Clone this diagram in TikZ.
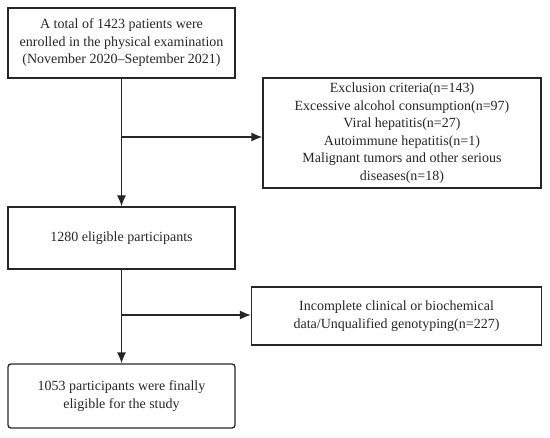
\documentclass[tikz,border=0pt]{standalone}
\usepackage{fontspec}
\setmainfont{Liberation Serif}
\usetikzlibrary{arrows.meta}
\begin{document}
\begin{tikzpicture}[x=1bp,y=-1bp,
  box/.style={draw=black!85, line width=1.3bp, align=center, inner sep=0pt,
    font=\fontsize{14bp}{17.5bp}\selectfont, text=black!85},
  conn/.style={draw=black!85, line width=1.3bp},
  arr/.style={conn, -{Latex[length=11bp,width=9bp]}}]
\useasboundingbox (0,0) rectangle (550,438);
\node[box, minimum width=227bp, minimum height=70bp] (a) at (121.5,43) {A total of 1423 patients were\\enrolled in the physical examination\\(November 2020--September 2021)};
\node[box, minimum width=278bp, minimum height=110bp] (b) at (402,133) {Exclusion criteria(n=143)\\Excessive alcohol consumption(n=97)\\Viral hepatitis(n=27)\\Autoimmune hepatitis(n=1)\\Malignant tumors and other serious\\diseases(n=18)};
\node[box, minimum width=227bp, minimum height=62bp] (c) at (121.5,238) {1280 eligible participants};
\node[box, minimum width=290bp, minimum height=58bp] (d) at (396.5,316) {Incomplete clinical or biochemical\\data/Unqualified genotyping(n=227)};
\node[box, rounded corners=3bp, minimum width=227bp, minimum height=64bp] (e) at (121.5,396) {1053 participants were finally\\eligible for the study};
\coordinate (p1) at (121.5,137);
\coordinate (p2) at (121.5,315);
\draw[arr] (a.south) -- (c.north);
\draw[arr] (p1) -- (b.west |- p1);
\draw[arr] (c.south) -- (e.north);
\draw[arr] (p2) -- (d.west |- p2);
\end{tikzpicture}
\end{document}
